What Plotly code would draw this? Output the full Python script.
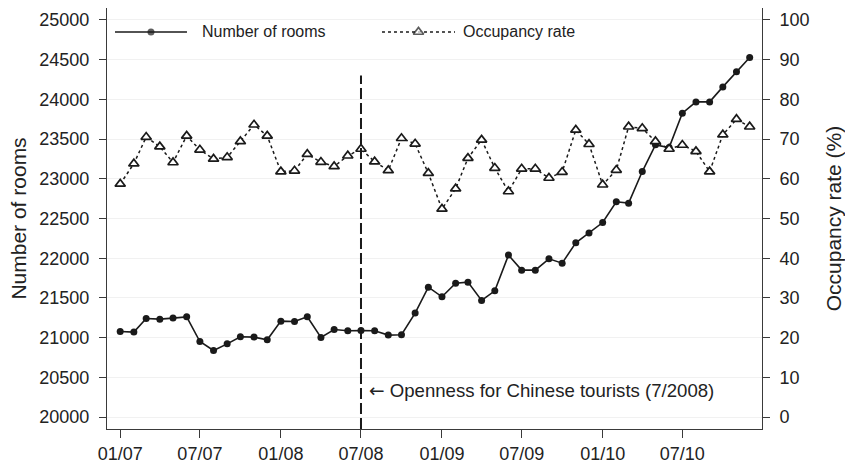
import pandas as pd
import plotly.graph_objects as go

# Monthly series, January 2007 - December 2010
months = pd.date_range("2007-01-01", periods=48, freq="MS")

rooms = [
    21077, 21070, 21241, 21233, 21246, 21262, 20951, 20838, 20922, 21011, 21007, 20973,
    21208, 21203, 21262, 21002, 21103, 21086, 21090, 21086, 21032, 21036, 21309, 21636,
    21514, 21686, 21699, 21468, 21590, 22039, 21850, 21850, 21992, 21938, 22194, 22316,
    22449, 22710, 22693, 23091, 23427, 23393, 23826, 23968, 23968, 24157, 24346, 24526,
]

occupancy = [
    58.7, 63.8, 70.5, 68.1, 64.1, 70.8, 67.3, 65.0, 65.4, 69.4, 73.6, 70.8,
    61.8, 62.0, 66.2, 64.2, 63.1, 65.8, 67.5, 64.3, 62.1, 70.2, 68.8, 61.4,
    52.4, 57.5, 65.2, 69.8, 62.7, 56.8, 62.5, 62.5, 60.2, 61.7, 72.3, 68.7,
    58.5, 62.2, 73.1, 72.7, 69.4, 67.5, 68.5, 66.9, 61.8, 71.1, 75.0, 73.1,
]

tick_dates = ["2007-01-01", "2007-07-01", "2008-01-01", "2008-07-01",
              "2009-01-01", "2009-07-01", "2010-01-01", "2010-07-01"]
tick_labels = ["01/07", "07/07", "01/08", "07/08", "01/09", "07/09", "01/10", "07/10"]

rooms_ticks = [20000, 20500, 21000, 21500, 22000, 22500, 23000, 23500, 24000, 24500, 25000]
occ_ticks = [0, 10, 20, 30, 40, 50, 60, 70, 80, 90, 100]

event_date = "2008-07-01"
event_label = ("<span style='font-family:DejaVu Sans'>\u2190</span>"
               " Openness for Chinese tourists (7/2008)")

FONT = "Liberation Sans, Arial, Helvetica, sans-serif"
INK = "#1a1a1a"
AXIS = "#3a3a3a"

fig = go.Figure()

fig.add_trace(go.Scatter(
    x=months, y=rooms, name="Number of rooms", mode="lines+markers",
    line=dict(color=INK, width=1.6),
    marker=dict(symbol="circle", size=7, color=INK),
    showlegend=False,
))

fig.add_trace(go.Scatter(
    x=months, y=occupancy, name="Occupancy rate", mode="lines+markers",
    yaxis="y2",
    line=dict(color=INK, width=1.5, dash="dot"),
    marker=dict(symbol="triangle-up", size=9, color="white",
                line=dict(color=INK, width=1.7)),
    showlegend=False,
))

# Legend samples, drawn on a hidden unit axis pair
leg_y = 0.943
legend_items = [
    ("Number of rooms", 0.0122, 0.1221, "solid", "circle", INK, 7, 0.142),
    ("Occupancy rate", 0.4198, 0.5313, "dot", "triangle-up", "white", 9, 0.5405),
]
for label, x0, x1, dash, sym, fill, msize, tx in legend_items:
    fig.add_trace(go.Scatter(
        x=[x0, (x0 + x1) / 2, x1], y=[leg_y] * 3,
        xaxis="x3", yaxis="y3", mode="lines+markers",
        line=dict(color=INK, width=1.5, dash=dash),
        marker=dict(symbol=sym, size=[0, msize, 0], color=fill,
                    line=dict(color=INK, width=1.7 if sym != "circle" else 0)),
        showlegend=False, hoverinfo="skip",
    ))
    fig.add_annotation(x=tx, y=leg_y, xref="paper", yref="paper", text=label,
                       showarrow=False, xanchor="left", yanchor="middle",
                       font=dict(family=FONT, size=16, color="#222"))

# Event marker
fig.add_shape(type="line", xref="x", yref="y", x0=event_date, x1=event_date,
              y0=19850, y1=24300, line=dict(color=INK, width=2, dash="11px,4px"))
fig.add_annotation(x=event_date, y=20330, xref="x", yref="y", text=event_label,
                   showarrow=False, xanchor="left", yanchor="middle", xshift=6,
                   font=dict(family=FONT, size=18.6, color="#222"))

fig.update_layout(
    width=845, height=466,
    margin=dict(l=107, r=83, t=8, b=37, autoexpand=False),
    paper_bgcolor="white", plot_bgcolor="white",
    font=dict(family=FONT, size=18, color="#222"),
    xaxis=dict(
        range=["2006-12-02", "2010-12-29"],
        tickvals=tick_dates, ticktext=tick_labels,
        showgrid=False, zeroline=False, automargin=False,
        showline=True, linecolor=AXIS, linewidth=1,
        ticks="outside", ticklen=8, tickcolor=AXIS, tickwidth=1,
        tickfont=dict(size=18),
    ),
    yaxis=dict(
        range=[19850, 25150], tickvals=rooms_ticks, tickformat="d",
        showgrid=True, gridcolor="#f1f1f1", gridwidth=1, zeroline=False,
        automargin=False,
        showline=True, linecolor=AXIS, linewidth=1,
        ticks="outside", ticklen=7, tickcolor=AXIS, tickwidth=1,
        tickfont=dict(size=18), ticklabelstandoff=6,
        title=dict(text="Number of rooms", font=dict(size=21), standoff=6),
    ),
    yaxis2=dict(
        range=[-3, 103], tickvals=occ_ticks, tickformat="d",
        overlaying="y", side="right", automargin=False,
        showgrid=False, zeroline=False,
        showline=True, linecolor=AXIS, linewidth=1,
        ticks="outside", ticklen=7, tickcolor=AXIS, tickwidth=1,
        tickfont=dict(size=18), ticklabelstandoff=6,
        title=dict(text="Occupancy rate (%)", font=dict(size=21), standoff=17),
    ),
    xaxis3=dict(overlaying="x", range=[0, 1], visible=False, anchor="y3"),
    yaxis3=dict(overlaying="y", range=[0, 1], visible=False, anchor="x3"),
)

fig.write_html("out.html")
